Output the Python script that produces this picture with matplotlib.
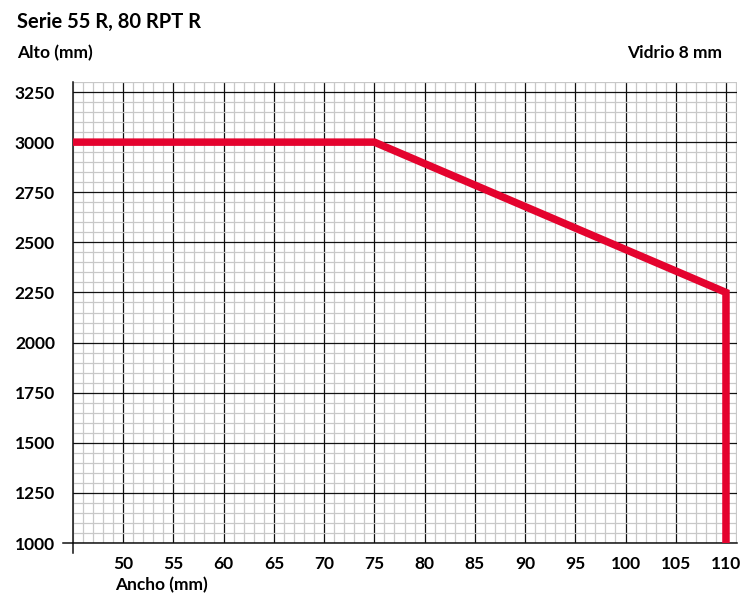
import numpy as np
import matplotlib.pyplot as plt
from matplotlib.ticker import MultipleLocator

plt.rcParams['font.family'] = ['Lato', 'DejaVu Sans']
plt.rcParams['font.weight'] = 'bold'

# curve of the max sizes (ancho, alto)
ancho = [45, 75, 110, 110]
alto = [3000, 3000, 2250, 1000]
x_ticks = list(range(50, 111, 5))
y_ticks = list(range(1000, 3251, 250))

fig = plt.figure(figsize=(7.42, 5.96), dpi=100)
ax = fig.add_axes([0.0984, 0.0889, 0.8949, 0.7735])
ax.set_xlim(45, 111.1)
ax.set_ylim(1000, 3300)

ax.xaxis.set_major_locator(plt.FixedLocator(x_ticks))
ax.yaxis.set_major_locator(plt.FixedLocator(y_ticks))
ax.xaxis.set_minor_locator(MultipleLocator(1))
ax.yaxis.set_minor_locator(MultipleLocator(50))
ax.grid(which='minor', color='#c8c8c8', lw=0.9)
ax.grid(which='major', color='#111111', lw=0.9)
ax.set_axisbelow(True)
for s in ['top', 'right']:
    ax.spines[s].set_visible(False)
for s in ['left', 'bottom']:
    ax.spines[s].set_color('#111111')
    ax.spines[s].set_linewidth(1.1)

ax.tick_params(which='both', length=0)
ax.tick_params(axis='y', pad=13, labelsize=12.5)
ax.tick_params(axis='x', pad=9, labelsize=12.5)

# small tick stubs at the corner
ax.plot([45, 45], [1000, 950], color='#111111', lw=1.1, clip_on=False)
ax.plot([44, 45], [1000, 1000], color='#111111', lw=1.1, clip_on=False)

ax.plot(ancho, alto, color='#e4032e', lw=5.4, solid_capstyle='round',
        solid_joinstyle='miter', zorder=5)

fig.text(17/742, 1-22/596, 'Serie 55 R, 80 RPT R', fontsize=14.5, va='center', ha='left')
fig.text(17/742, 1-53/596, 'Alto (mm)', fontsize=12.5, va='center', ha='left')
fig.text(722/742, 1-53/596, 'Vidrio 8 mm', fontsize=12.5, va='center', ha='right')
fig.text(115/742, 1-585/596, 'Ancho (mm)', fontsize=12.5, va='center', ha='left')

fig.savefig('out.png', dpi=100)
